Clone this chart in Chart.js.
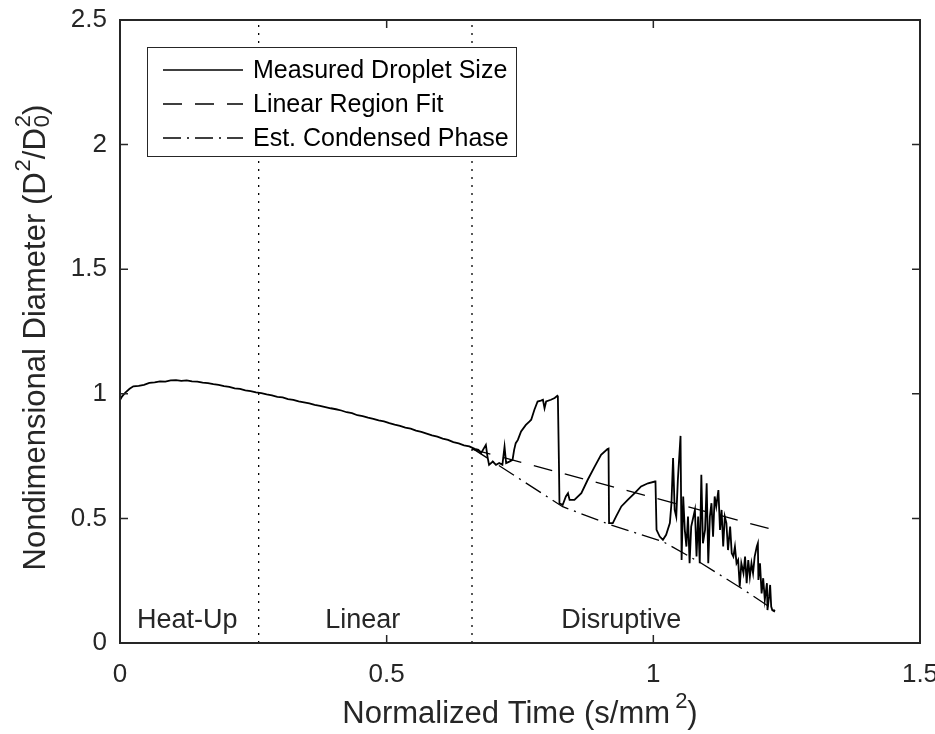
<!DOCTYPE html>
<html>
<head>
<meta charset="utf-8">
<script src="https://cdn.jsdelivr.net/npm/chart.js@4.4.0/dist/chart.umd.min.js"></script>
<style>
  html, body { margin: 0; padding: 0; background: #fff; }
  #wrap { width: 935px; height: 734px; }
</style>
</head>
<body>
<div id="wrap"><canvas id="chart"></canvas></div>
<script>
// droplet D^2 history
const timeMeasured = [
  0, 0.004, 0.010, 0.018, 0.025, 0.035, 0.045, 0.055, 0.065, 0.075,
  0.085, 0.095, 0.105, 0.115, 0.125, 0.135, 0.145, 0.155, 0.165, 0.175,
  0.185, 0.195, 0.205, 0.215, 0.225, 0.235, 0.245, 0.255, 0.265, 0.275,
  0.285, 0.295, 0.305, 0.315, 0.325, 0.335, 0.345, 0.355, 0.365, 0.375,
  0.385, 0.395, 0.405, 0.415, 0.425, 0.435, 0.445, 0.455, 0.465, 0.475,
  0.485, 0.495, 0.505, 0.515, 0.525, 0.535, 0.545, 0.555, 0.565, 0.575,
  0.585, 0.595, 0.605, 0.615, 0.625, 0.635, 0.645, 0.655, 0.665, 0.672,
  0.677, 0.686, 0.689, 0.692, 0.699, 0.705, 0.711, 0.717, 0.721, 0.724,
  0.730, 0.736, 0.739, 0.742, 0.746, 0.752, 0.761, 0.768, 0.771, 0.777,
  0.783, 0.789, 0.793, 0.796, 0.799, 0.808, 0.815, 0.820, 0.821, 0.823,
  0.824, 0.830, 0.836, 0.840, 0.843, 0.852, 0.865, 0.877, 0.890, 0.902,
  0.914, 0.916, 0.917, 0.924, 0.930, 0.940, 0.952, 0.965, 0.977, 0.990,
  1.003, 1.004, 1.006, 1.012, 1.018, 1.024, 1.031, 1.034, 1.037, 1.040,
  1.043, 1.046, 1.051, 1.053, 1.056, 1.059, 1.062, 1.065, 1.068, 1.071,
  1.078, 1.081, 1.084, 1.087, 1.090, 1.093, 1.097, 1.100, 1.103, 1.106,
  1.109, 1.112, 1.115, 1.118, 1.122, 1.125, 1.128, 1.131, 1.134, 1.137,
  1.140, 1.144, 1.147, 1.150, 1.153, 1.156, 1.159, 1.162, 1.165, 1.169,
  1.172, 1.175, 1.178, 1.181, 1.184, 1.187, 1.190, 1.194, 1.196, 1.197,
  1.200, 1.203, 1.206, 1.209, 1.213, 1.214, 1.217, 1.219, 1.221, 1.223, 1.228
];
const diamMeasured = [
  0.975, 0.990, 1.005, 1.020, 1.030, 1.032, 1.036, 1.044, 1.046, 1.050,
  1.049, 1.054, 1.055, 1.052, 1.054, 1.050, 1.049, 1.045, 1.043, 1.039,
  1.036, 1.031, 1.028, 1.022, 1.020, 1.014, 1.011, 1.006, 1.003, 0.998,
  0.994, 0.988, 0.986, 0.979, 0.976, 0.970, 0.966, 0.962, 0.956, 0.952,
  0.947, 0.942, 0.938, 0.933, 0.926, 0.922, 0.914, 0.910, 0.904, 0.899,
  0.893, 0.889, 0.882, 0.876, 0.871, 0.864, 0.860, 0.852, 0.847, 0.840,
  0.833, 0.828, 0.820, 0.815, 0.806, 0.801, 0.793, 0.789, 0.779, 0.775,
  0.762, 0.795, 0.748, 0.715, 0.728, 0.715, 0.722, 0.715, 0.788, 0.722,
  0.728, 0.735, 0.775, 0.802, 0.815, 0.849, 0.875, 0.889, 0.896, 0.936,
  0.969, 0.973, 0.976, 0.942, 0.969, 0.976, 0.983, 0.992, 0.989, 0.722,
  0.561, 0.554, 0.588, 0.601, 0.574, 0.574, 0.601, 0.655, 0.708, 0.755,
  0.778, 0.780, 0.481, 0.481, 0.507, 0.548, 0.574, 0.601, 0.628, 0.641,
  0.648, 0.648, 0.454, 0.427, 0.414, 0.434, 0.481, 0.561, 0.742, 0.534,
  0.507, 0.655, 0.831, 0.333, 0.588, 0.454, 0.387, 0.507, 0.320, 0.467,
  0.534, 0.347, 0.507, 0.320, 0.675, 0.400, 0.454, 0.641, 0.320, 0.507,
  0.561, 0.427, 0.588, 0.548, 0.614, 0.454, 0.534, 0.387, 0.507, 0.481,
  0.373, 0.467, 0.360, 0.347, 0.387, 0.320, 0.333, 0.226, 0.320, 0.280,
  0.347, 0.240, 0.333, 0.266, 0.320, 0.280, 0.347, 0.387, 0.400, 0.253,
  0.320, 0.199, 0.260, 0.173, 0.240, 0.132, 0.186, 0.233, 0.146, 0.132, 0.126
];

// linear region fit and estimated condensed phase
const timeFit = [0.66, 1.235];
const diamFit = [0.778, 0.449];
const timeCondensed = [0.66, 0.83, 0.92, 1.018, 1.09, 1.165, 1.235];
const diamCondensed = [0.782, 0.547, 0.474, 0.407, 0.32, 0.22, 0.12];

// regime boundaries and labels
const boundaries = [0.26, 0.66];
const regimeNames = ['Heat-Up', 'Linear', 'Disruptive'];
const regimeCenters = [0.126, 0.455, 0.94];
const regimeLabelY = 0.092;

const xTicks = [0, 0.5, 1, 1.5];
const yTicks = [0, 0.5, 1, 1.5, 2, 2.5];

const FONT = '"Liberation Sans", Arial, Helvetica, sans-serif';
const INK = '#262626';

function pts(xs, ys) {
  return xs.map((x, i) => ({ x: x, y: ys[i] }));
}

const datasets = [
  { label: 'Measured Droplet Size', data: pts(timeMeasured, diamMeasured),
    borderColor: '#000', borderWidth: 1.8, borderDash: [] },
  { label: 'Linear Region Fit', data: pts(timeFit, diamFit),
    borderColor: '#000', borderWidth: 1.3, borderDash: [19, 13] },
  { label: 'Est. Condensed Phase', data: pts(timeCondensed, diamCondensed),
    borderColor: '#000', borderWidth: 1.3, borderDash: [18, 6, 2, 6] }
];
boundaries.forEach(b => {
  datasets.push({ label: '', data: pts([b, b], [0, 2.5]), borderColor: '#000',
    borderWidth: 1.3, borderDash: [2, 6], noLegend: true });
});

// rich text: parts are [text, kind, gap], kind = 'n' | 'sup' | 'sub0sup'
function richWidth(ctx, parts, size) {
  let w = 0;
  parts.forEach(p => {
    if (p[1] === 'n') { ctx.font = size + 'px ' + FONT; w += ctx.measureText(p[0]).width; }
    else { ctx.font = Math.round(size * 0.72) + 'px ' + FONT; w += ctx.measureText(p[0]).width + (p[2] || 0); }
  });
  return w;
}
function drawRich(ctx, parts, cx, cy, size) {
  const total = richWidth(ctx, parts, size);
  let x = cx - total / 2;
  ctx.textAlign = 'left';
  ctx.textBaseline = 'middle';
  parts.forEach(p => {
    if (p[1] === 'n') {
      ctx.font = size + 'px ' + FONT;
      ctx.fillText(p[0], x, cy);
      x += ctx.measureText(p[0]).width;
    } else {
      const small = Math.round(size * 0.72);
      ctx.font = small + 'px ' + FONT;
      x += (p[2] || 0);
      const w = ctx.measureText(p[0]).width;
      if (p[1] === 'sup') {
        ctx.fillText(p[0], x, cy - size * 0.38);
      } else {
        // subscript 0 with superscript 2 stacked
        ctx.fillText('0', x, cy + size * 0.22);
        ctx.fillText(p[0], x, cy - size * 0.38);
      }
      x += w;
    }
  });
}

const matlabFrame = {
  id: 'matlabFrame',
  afterDatasetsDraw(chart) {
    const { ctx, chartArea: a, scales } = chart;
    const xs = scales.x, ys = scales.y;
    ctx.save();

    // regime labels
    ctx.fillStyle = INK;
    ctx.font = '27px ' + FONT;
    ctx.textAlign = 'center';
    ctx.textBaseline = 'middle';
    regimeNames.forEach((n, i) => {
      ctx.fillText(n, xs.getPixelForValue(regimeCenters[i]), ys.getPixelForValue(regimeLabelY));
    });

    // legend box
    const lx = a.left + 27, ly = a.top + 27, lw = 369, lh = 109;
    ctx.fillStyle = '#fff';
    ctx.fillRect(lx, ly, lw, lh);
    ctx.strokeStyle = INK;
    ctx.lineWidth = 1;
    ctx.setLineDash([]);
    ctx.strokeRect(lx + 0.5, ly + 0.5, lw, lh);
    const rows = chart.data.datasets.filter(d => !d.noLegend);
    rows.forEach((d, i) => {
      const ry = ly + 23 + i * 34;
      ctx.strokeStyle = '#000';
      ctx.lineWidth = 1.3;
      ctx.setLineDash(d.borderDash);
      ctx.beginPath();
      ctx.moveTo(lx + 16, ry);
      ctx.lineTo(lx + 96, ry);
      ctx.stroke();
      ctx.setLineDash([]);
      ctx.fillStyle = '#000';
      ctx.font = '25px ' + FONT;
      ctx.textAlign = 'left';
      ctx.textBaseline = 'middle';
      ctx.fillText(d.label, lx + 106, ry + 1);
    });

    // box with inward ticks on all four sides
    ctx.strokeStyle = INK;
    ctx.lineWidth = 2;
    ctx.setLineDash([]);
    ctx.strokeRect(a.left, a.top, a.right - a.left, a.bottom - a.top);
    ctx.lineWidth = 1.5;
    ctx.beginPath();
    xTicks.forEach(v => {
      const px = xs.getPixelForValue(v);
      ctx.moveTo(px, a.bottom); ctx.lineTo(px, a.bottom - 8);
      ctx.moveTo(px, a.top); ctx.lineTo(px, a.top + 8);
    });
    yTicks.forEach(v => {
      const py = ys.getPixelForValue(v);
      ctx.moveTo(a.left, py); ctx.lineTo(a.left + 8, py);
      ctx.moveTo(a.right, py); ctx.lineTo(a.right - 8, py);
    });
    ctx.stroke();

    // axis titles
    ctx.fillStyle = INK;
    drawRich(ctx, [['Normalized Time (s/mm', 'n'], ['2', 'sup', 5], [')', 'n']],
      (a.left + a.right) / 2, 714, 31);
    ctx.translate(36, (a.top + a.bottom) / 2 + 6);
    ctx.rotate(-Math.PI / 2);
    drawRich(ctx, [['Nondimensional Diameter (D', 'n'], ['2', 'sup', 1], ['/D', 'n'],
      ['2', 'sub0sup', 1], [')', 'n']], 0, 0, 31);
    ctx.restore();
  }
};

new Chart(document.getElementById('chart'), {
  type: 'line',
  data: { datasets: datasets },
  options: {
    responsive: true,
    maintainAspectRatio: false,
    animation: false,
    layout: { padding: { left: 0, right: 15, top: 20, bottom: 0 } },
    elements: { point: { radius: 0 }, line: { tension: 0, fill: false } },
    plugins: { legend: { display: false }, tooltip: { enabled: false } },
    scales: {
      x: {
        type: 'linear', min: 0, max: 1.5,
        afterBuildTicks: s => { s.ticks = xTicks.map(v => ({ value: v })); },
        afterFit: s => { s.height = 91; s.paddingLeft = 0; s.paddingRight = 0; },
        grid: { display: false, drawTicks: false },
        border: { display: false },
        ticks: { color: INK, padding: 16, maxRotation: 0, autoSkip: false,
          font: { family: FONT, size: 26 }, callback: v => String(v) }
      },
      y: {
        type: 'linear', min: 0, max: 2.5,
        afterBuildTicks: s => { s.ticks = yTicks.map(v => ({ value: v })); },
        afterFit: s => { s.width = 120; s.paddingTop = 0; s.paddingBottom = 0; },
        grid: { display: false, drawTicks: false },
        border: { display: false },
        ticks: { color: INK, padding: 13, autoSkip: false,
          font: { family: FONT, size: 26 }, callback: v => String(v) }
      }
    }
  },
  plugins: [matlabFrame]
});
</script>
</body>
</html>
